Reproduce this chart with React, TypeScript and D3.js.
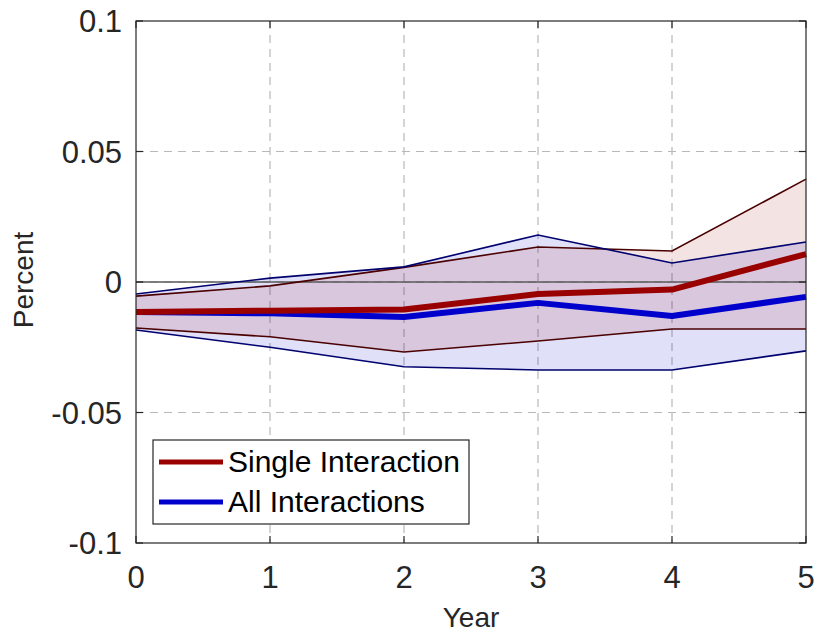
import React from "react";
import * as d3 from "d3";

// Horizon in years
const years = [0, 1, 2, 3, 4, 5];

// Single-interaction response and its band
const singleMean = [-0.0115, -0.011, -0.0105, -0.0046, -0.0029, 0.0107];
const singleUpper = [-0.0054, -0.0015, 0.0056, 0.0134, 0.0119, 0.0394];
const singleLower = [-0.0176, -0.021, -0.0268, -0.0226, -0.018, -0.018];

// All-interactions response and its band
const allMean = [-0.0115, -0.012, -0.0134, -0.008, -0.013, -0.0057];
const allUpper = [-0.0046, 0.0015, 0.0058, 0.018, 0.0073, 0.0153];
const allLower = [-0.0184, -0.025, -0.0325, -0.0337, -0.0337, -0.0264];

const xTicks = [0, 1, 2, 3, 4, 5];
const yTicks = [-0.1, -0.05, 0, 0.05, 0.1];
const yTickLabels = ["-0.1", "-0.05", "0", "0.05", "0.1"];

const legendLabels = ["Single Interaction", "All Interactions"];

const W = 817;
const H = 634;
const left = 136;
const right = 806;
const top = 21;
const bottom = 543;

const FONT = "'Liberation Sans', Arial, Helvetica, sans-serif";
const TXT = "#262626";

export default function App() {
  const x = d3.scaleLinear().domain([0, 5]).range([left, right]);
  const y = d3.scaleLinear().domain([-0.1, 0.1]).range([bottom, top]);

  const line = d3
    .line<number>()
    .x((_, i) => x(years[i]))
    .y((d) => y(d));

  const band = (lo: number[], hi: number[]) =>
    d3
      .area<number>()
      .x((_, i) => x(years[i]))
      .y0((_, i) => y(lo[i]))
      .y1((_, i) => y(hi[i]))(years) as string;

  const series = [
    {
      mean: singleMean,
      lo: singleLower,
      hi: singleUpper,
      color: "#990000",
      fill: "rgba(153,0,0,0.11)",
      edge: "#4a0000",
    },
    {
      mean: allMean,
      lo: allLower,
      hi: allUpper,
      color: "#0000cc",
      fill: "rgba(0,0,204,0.12)",
      edge: "#00006e",
    },
  ];

  const tickLen = 7;

  return (
    <svg
      width={W}
      height={H}
      style={{ position: "absolute", left: 0, top: 0, background: "#fff" }}
      fontFamily={FONT}
    >
      {/* grid */}
      {xTicks
        .filter((t) => t > 0 && t < 5)
        .map((t) => (
          <line
            key={"gx" + t}
            x1={x(t)}
            x2={x(t)}
            y1={top}
            y2={bottom}
            stroke="#b8b8b8"
            strokeWidth={1.2}
            strokeDasharray="8,6"
          />
        ))}
      {yTicks
        .filter((t) => t > -0.1 && t < 0.1)
        .map((t) => (
          <line
            key={"gy" + t}
            x1={left}
            x2={right}
            y1={y(t)}
            y2={y(t)}
            stroke="#b8b8b8"
            strokeWidth={1.2}
            strokeDasharray="8,6"
          />
        ))}

      {/* bands */}
      {series
        .slice()
        .reverse()
        .map((s, i) => (
          <path key={"b" + i} d={band(s.lo, s.hi)} fill={s.fill} stroke="none" />
        ))}

      {/* zero reference */}
      <line x1={left} x2={right} y1={y(0)} y2={y(0)} stroke="#5a5a5a" strokeWidth={1.4} />

      {/* band edges */}
      {series.map((s, i) => (
        <g key={"e" + i} fill="none" stroke={s.edge} strokeWidth={1.6}>
          <path d={line(s.hi) as string} />
          <path d={line(s.lo) as string} />
        </g>
      ))}

      {/* central responses */}
      {series
        .slice()
        .reverse()
        .map((s, i) => (
          <path
            key={"m" + i}
            d={line(s.mean) as string}
            fill="none"
            stroke={s.color}
            strokeWidth={6}
            strokeLinejoin="round"
          />
        ))}

      {/* axes box */}
      <rect
        x={left}
        y={top}
        width={right - left}
        height={bottom - top}
        fill="none"
        stroke={TXT}
        strokeWidth={1.2}
      />
      {xTicks.map((t) => (
        <g key={"tx" + t} stroke={TXT} strokeWidth={1.2}>
          <line x1={x(t)} x2={x(t)} y1={bottom} y2={bottom - tickLen} />
          <line x1={x(t)} x2={x(t)} y1={top} y2={top + tickLen} />
        </g>
      ))}
      {yTicks.map((t) => (
        <g key={"ty" + t} stroke={TXT} strokeWidth={1.2}>
          <line x1={left} x2={left + tickLen} y1={y(t)} y2={y(t)} />
          <line x1={right} x2={right - tickLen} y1={y(t)} y2={y(t)} />
        </g>
      ))}

      {/* tick labels */}
      {xTicks.map((t) => (
        <text
          key={"lx" + t}
          x={x(t)}
          y={588}
          textAnchor="middle"
          fontSize={31}
          fill={TXT}
        >
          {t}
        </text>
      ))}
      {yTicks.map((t, i) => (
        <text
          key={"ly" + t}
          x={122}
          y={y(t) + 11}
          textAnchor="end"
          fontSize={31}
          fill={TXT}
        >
          {yTickLabels[i]}
        </text>
      ))}

      {/* axis titles */}
      <text x={471} y={627} textAnchor="middle" fontSize={28} fill={TXT}>
        Year
      </text>
      <text
        transform={`translate(33,280) rotate(-90)`}
        textAnchor="middle"
        fontSize={28}
        fill={TXT}
      >
        Percent
      </text>

      {/* legend */}
      <rect x={153} y={440} width={316} height={84} fill="#fff" stroke={TXT} strokeWidth={1.2} />
      {series.map((s, i) => (
        <g key={"lg" + i}>
          <line
            x1={159}
            x2={223}
            y1={462 + i * 40}
            y2={462 + i * 40}
            stroke={s.color}
            strokeWidth={5}
          />
          <text x={228} y={462 + i * 40 + 10} fontSize={30} fill="#000">
            {legendLabels[i]}
          </text>
        </g>
      ))}
    </svg>
  );
}
